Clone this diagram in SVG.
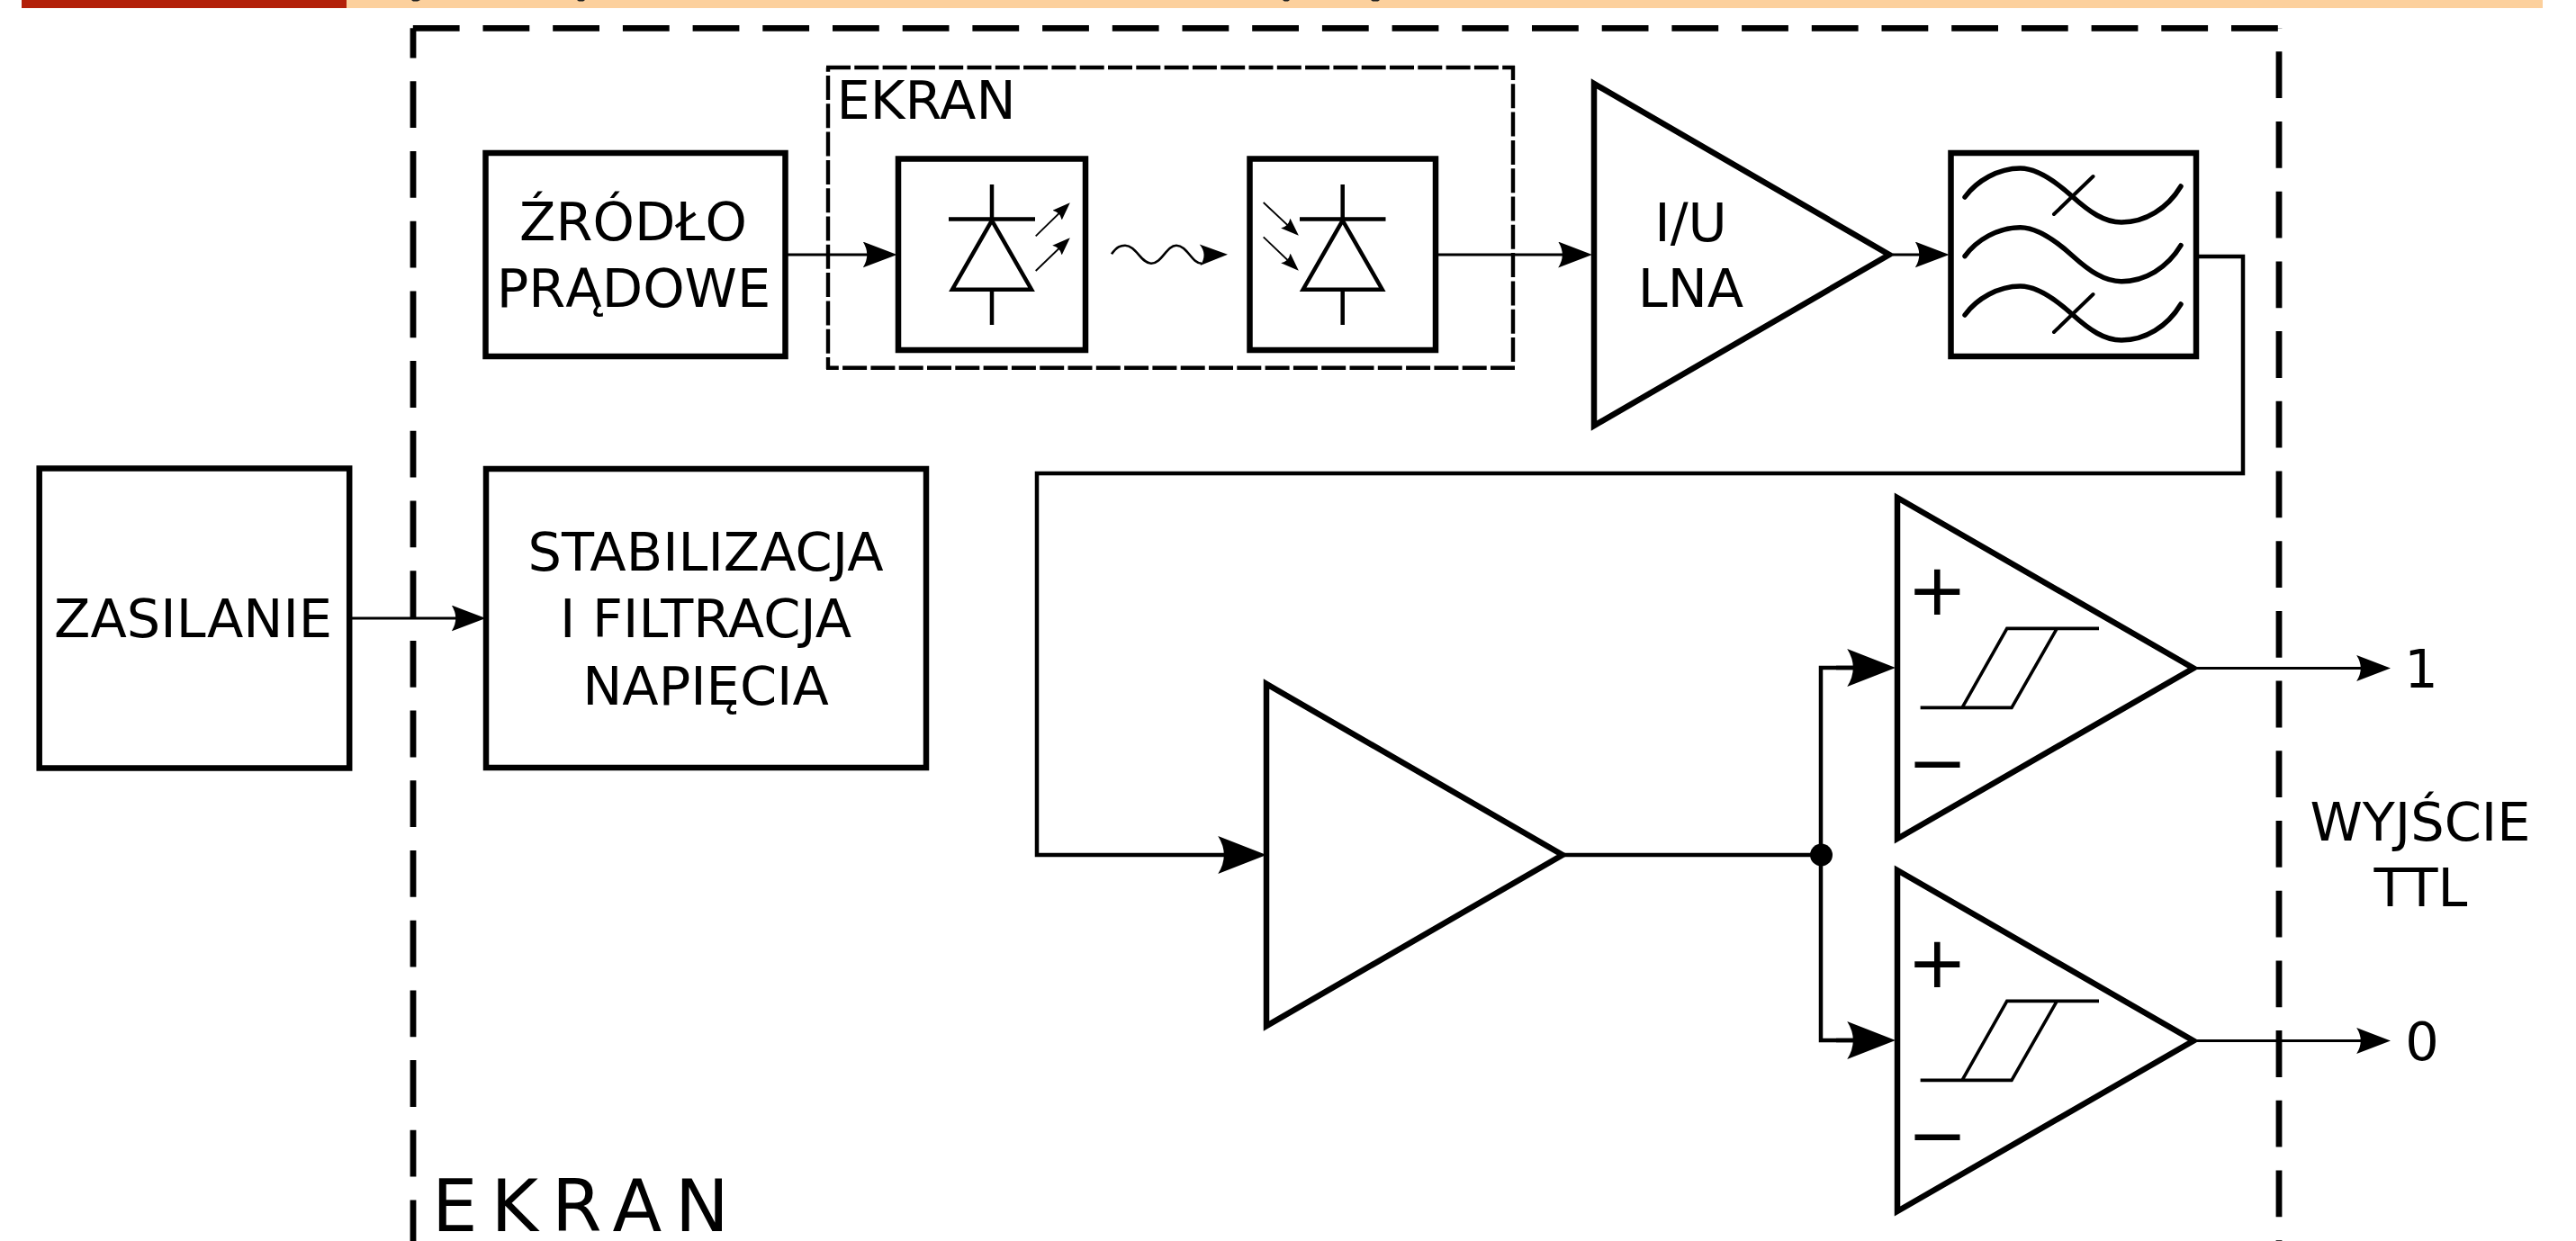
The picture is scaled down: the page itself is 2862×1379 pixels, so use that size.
<svg xmlns="http://www.w3.org/2000/svg" width="2862" height="1379" viewBox="0 0 2862 1379">
<style>
text{font-family:"DejaVu Sans","Liberation Sans",sans-serif;font-size:59px;fill:#000;text-anchor:middle}
.box{fill:#fff;stroke:#000;stroke-width:6.5}
.tri{fill:#fff;stroke:#000;stroke-width:6.5;stroke-linejoin:miter;stroke-miterlimit:10}
.sym{fill:none;stroke:#000;stroke-width:4.5}
.hys{fill:none;stroke:#000;stroke-width:3.6}
.flt{fill:none;stroke:#000;stroke-width:5.5;stroke-linecap:round}
.wire{fill:none;stroke:#000;stroke-width:3}
.wireb{fill:none;stroke:#000;stroke-width:4.5;stroke-linejoin:miter}
.ph{fill:none;stroke:#000;stroke-width:1.8}
.outer{fill:none;stroke:#000;stroke-width:6.8;stroke-dasharray:51.8 25.9}
.inner{fill:none;stroke:#000;stroke-width:4.4;stroke-dasharray:27 4.3}
.am{marker-end:url(#arrowM)}
.al{marker-end:url(#arrowL)}
.as{marker-end:url(#arrowS)}
</style>
<defs>
<marker id="arrowM" viewBox="-37 -14 37 28" refX="-6" refY="0" markerUnits="userSpaceOnUse" markerWidth="38" markerHeight="29" orient="auto" preserveAspectRatio="none"><path d="M0 0L-37 -14Q-28 0 -37 14Z"/></marker>
<marker id="arrowL" viewBox="-37 -14 37 28" refX="-6" refY="0" markerUnits="userSpaceOnUse" markerWidth="54" markerHeight="42" orient="auto" preserveAspectRatio="none"><path d="M0 0L-37 -14Q-28 0 -37 14Z"/></marker>
<marker id="arrowS" viewBox="-37 -14 37 28" refX="-6" refY="0" markerUnits="userSpaceOnUse" markerWidth="20" markerHeight="15" orient="auto" preserveAspectRatio="none"><path d="M0 0L-37 -14Q-28 0 -37 14Z"/></marker>
</defs>
<rect width="2862" height="1379" fill="#fff"/>
<g id="header">
<rect x="24" y="0" width="361" height="9" fill="#b32009"/>
<rect x="385" y="0" width="2440" height="9" fill="#fcd09d"/>
<path d="M457 0H467L464 1.5H459ZM641 0H650L648 1.5H643ZM1425 0H1433L1431 1.5H1427ZM1523 0H1533L1531 1.5H1525Z" fill="#222"/>
</g>
<g id="ekran-outer">
<path class="outer" d="M458.8 31.3H2532"/>
<path class="outer" d="M2532 31.3V1379" stroke-dashoffset="51.7"/>
<path class="outer" d="M459 31.3V1379" stroke-dashoffset="18.7"/>
<text x="652.5" y="1367.6" style="font-size:80px;letter-spacing:15px">EKRAN</text>
</g>
<g id="ekran-inner">
<path class="inner" d="M918 75H1683"/>
<path class="inner" d="M1681 402V73"/>
<path class="inner" d="M1683 408.7H918"/>
<path class="inner" d="M920 75V410" stroke-dashoffset="22.3"/>
<text x="1029" y="131.7">EKRAN</text>
</g>
<g id="zasilanie">
<rect class="box" x="43.7" y="520.5" width="344.5" height="333"/>
<text x="214.6" y="708">ZASILANIE</text>
</g>
<g id="stabilizacja">
<rect class="box" x="540" y="521" width="489" height="332"/>
<text x="784" y="633.7">STABILIZACJA</text>
<text x="784" y="708">I FILTRACJA</text>
<text x="784" y="782.7">NAPIĘCIA</text>
</g>
<g id="zrodlo">
<rect class="box" x="539.5" y="170" width="333" height="226"/>
<text x="703.5" y="266.7">ŹRÓDŁO</text>
<text x="704" y="341">PRĄDOWE</text>
</g>
<g id="emitter">
<rect class="box" x="998" y="176.5" width="208" height="212.5"/>
<path class="sym" d="M1102 205V243M1054 243.5H1150M1102 322V361"/>
<path class="sym" d="M1102 245L1146 321.7H1058Z"/>
<path class="ph as" d="M1150.7 262.3L1186.5 227.5"/>
<path class="ph as" d="M1150.7 301L1186.5 266.5"/>
</g>
<g id="wave">
<path fill="none" stroke="#000" stroke-width="2.6" d="M1235 282.3C1241 274 1245 272.7 1250 272.7C1262 272.7 1268 292.7 1279 292.7C1291 292.7 1296 272.7 1307 272.7C1319 272.7 1324 292.7 1335 292.7"/>
<path d="M1364 282.7L1332.7 271.5Q1342 282.7 1333.5 295Z"/>
</g>
<g id="detector">
<rect class="box" x="1388.5" y="176.5" width="206.5" height="212.5"/>
<path class="sym" d="M1491.7 205V243M1444 243.5H1539.5M1491.7 322V361"/>
<path class="sym" d="M1491.7 245L1535.7 321.7H1447.7Z"/>
<path class="ph as" d="M1403.7 225L1440.5 259.5"/>
<path class="ph as" d="M1403.7 263.3L1440.5 298.5"/>
</g>
<g id="lna">
<path class="tri" d="M1771 93V473L2099 283Z"/>
<text x="1878.5" y="267.7">I/U</text>
<text x="1878.5" y="341">LNA</text>
</g>
<g id="filter">
<rect class="box" x="2167.5" y="170" width="272.5" height="226"/>
<g id="filter-curves" class="flt">
<path d="M2183 219C2196 201 2220 187 2244.6 187C2262 187 2282 200 2302 218C2322 236 2338 247 2357 247C2383 247 2408 232 2423 207"/>
<path d="M2183 284.7C2196 266.7 2220 252.7 2244.6 252.7C2262 252.7 2282 265.7 2302 283.7C2322 301.7 2338 312.7 2357 312.7C2383 312.7 2408 297.7 2423 272.7"/>
<path d="M2183 350C2196 332 2220 318 2244.6 318C2262 318 2282 331 2302 349C2322 367 2338 378 2357 378C2383 378 2408 363 2423 338"/>
<path d="M2282 238L2325.5 196M2282 369L2325.5 327" stroke-width="4"/>
</g>
</g>
<g id="amplifier">
<path class="tri" d="M1407 760V1140L1736 950Z"/>
</g>
<g id="comparator-1">
<path class="tri" d="M2108 553V932L2437 742.5Z"/>
<path class="hys" d="M2332 698.4H2229.8L2180 786.4M2285.3 698.4L2235 786.4H2133.6"/>
<text x="2152.3" y="682.5" style="font-size:80px">+</text>
<text x="2152.3" y="875" style="font-size:80px">−</text>
</g>
<g id="comparator-2">
<path class="tri" d="M2108 967V1346L2437 1156.5Z"/>
<path class="hys" d="M2332 1112.4H2229.8L2180 1200.4M2285.3 1112.4L2235 1200.4H2133.6"/>
<text x="2152.3" y="1096.5" style="font-size:80px">+</text>
<text x="2152.3" y="1289" style="font-size:80px">−</text>
</g>
<g id="output-labels">
<text x="2690" y="763.5">1</text>
<text x="2691" y="1178">0</text>
<text x="2689" y="934.4">WYJŚCIE</text>
<text x="2689.5" y="1007">TTL</text>
</g>
<g id="connectors">
<path class="wire am" d="M875 283H990.5"/>
<path class="wire am" d="M1598 283H1763"/>
<path class="wire am" d="M2103 283H2159.5"/>
<path class="wire am" d="M390 687H533.5"/>
<path class="wireb al" d="M2443 285H2492V526H1152V950H1398.5"/>
<path class="wireb" d="M1738 950H2023"/>
<path class="wireb" d="M2097.5 742H2023V1156H2097.5"/>
<path class="wireb al" d="M2040 742H2097.5"/>
<path class="wireb al" d="M2040 1156H2097.5"/>
<circle cx="2023.5" cy="950" r="12.5"/>
<path class="wire am" d="M2441 742.5H2650"/>
<path class="wire am" d="M2441 1156.5H2650"/>
</g>
</svg>
